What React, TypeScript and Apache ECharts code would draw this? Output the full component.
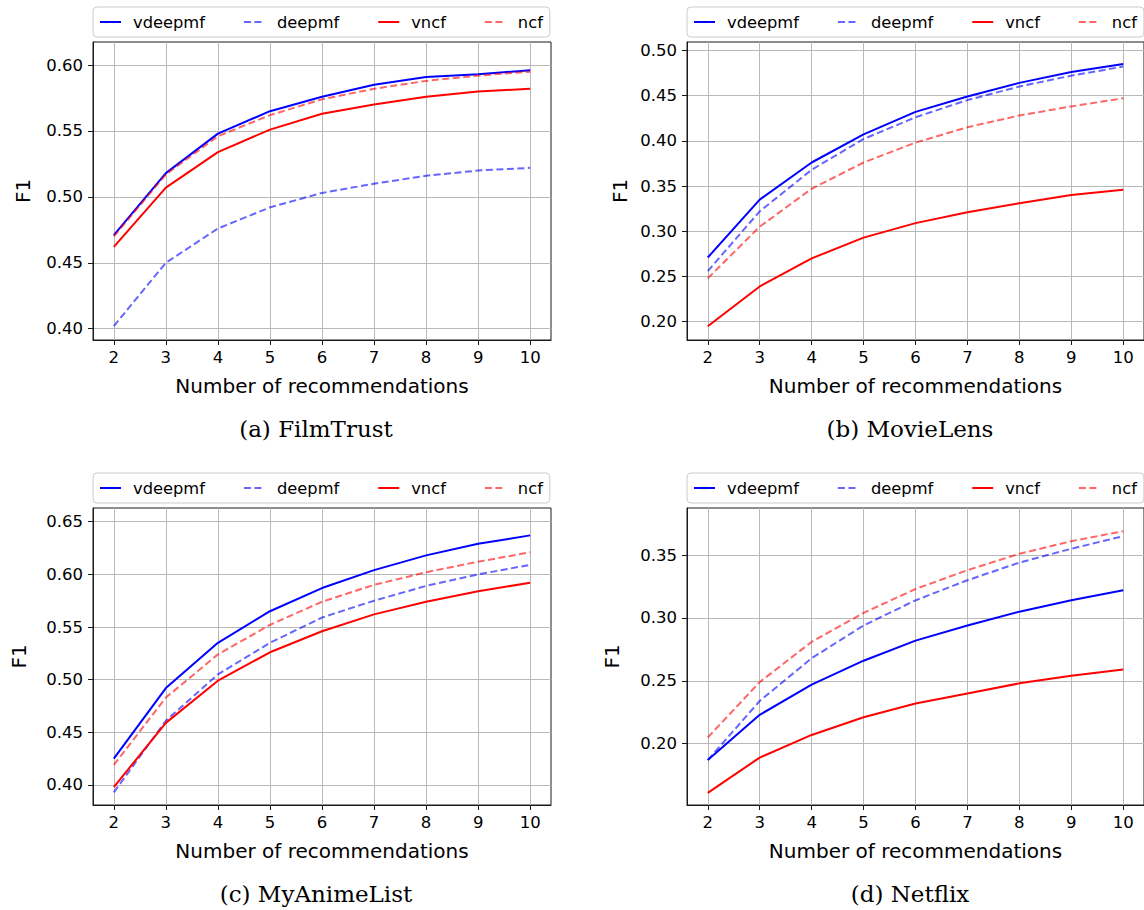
import React, { useEffect, useRef } from "react";
import * as echarts from "echarts";

// Number of recommendations (x values shared by every panel)
const steps = [2, 3, 4, 5, 6, 7, 8, 9, 10];
const methods = ["vdeepmf", "deepmf", "vncf", "ncf"];

// FilmTrust F1
const filmTrustVdeepmf = [0.471, 0.518, 0.548, 0.565, 0.576, 0.585, 0.591, 0.593, 0.596];
const filmTrustDeepmf = [0.402, 0.450, 0.476, 0.492, 0.503, 0.510, 0.516, 0.520, 0.522];
const filmTrustVncf = [0.462, 0.507, 0.534, 0.551, 0.563, 0.570, 0.576, 0.580, 0.582];
const filmTrustNcf = [0.470, 0.517, 0.546, 0.562, 0.574, 0.582, 0.588, 0.592, 0.595];

// MovieLens F1
const movieLensVdeepmf = [0.271, 0.335, 0.376, 0.407, 0.432, 0.449, 0.464, 0.476, 0.485];
const movieLensDeepmf = [0.256, 0.322, 0.368, 0.402, 0.426, 0.445, 0.460, 0.472, 0.482];
const movieLensVncf = [0.195, 0.239, 0.270, 0.293, 0.309, 0.321, 0.331, 0.340, 0.346];
const movieLensNcf = [0.248, 0.305, 0.347, 0.376, 0.398, 0.415, 0.428, 0.438, 0.447];

// MyAnimeList F1
const animeVdeepmf = [0.425, 0.492, 0.535, 0.565, 0.587, 0.604, 0.618, 0.629, 0.637];
const animeDeepmf = [0.393, 0.461, 0.505, 0.535, 0.559, 0.575, 0.589, 0.600, 0.609];
const animeVncf = [0.398, 0.459, 0.499, 0.526, 0.546, 0.562, 0.574, 0.584, 0.592];
const animeNcf = [0.419, 0.483, 0.524, 0.552, 0.574, 0.590, 0.602, 0.612, 0.621];

// Netflix F1
const netflixVdeepmf = [0.187, 0.223, 0.247, 0.266, 0.282, 0.294, 0.305, 0.314, 0.322];
const netflixDeepmf = [0.187, 0.234, 0.268, 0.294, 0.314, 0.330, 0.344, 0.355, 0.365];
const netflixVncf = [0.161, 0.189, 0.207, 0.221, 0.232, 0.240, 0.248, 0.254, 0.259];
const netflixNcf = [0.205, 0.249, 0.281, 0.304, 0.323, 0.338, 0.351, 0.361, 0.369];

// Y tick labels per panel
const filmTrustTicks = [0.4, 0.45, 0.5, 0.55, 0.6];
const movieLensTicks = [0.2, 0.25, 0.3, 0.35, 0.4, 0.45, 0.5];
const animeTicks = [0.4, 0.45, 0.5, 0.55, 0.6, 0.65];
const netflixTicks = [0.2, 0.25, 0.3, 0.35];

const captions = ["(a) FilmTrust", "(b) MovieLens", "(c) MyAnimeList", "(d) Netflix"];

const SANS = '"DejaVu Sans", sans-serif';
const SERIF = '"DejaVu Serif", serif';

const lineStyles = [
  { color: "#0000ff", type: "solid" as any },
  { color: "rgba(0,0,255,0.6)", type: [7, 3.5] as any },
  { color: "#ff0000", type: "solid" as any },
  { color: "rgba(255,0,0,0.6)", type: [7, 3.5] as any },
];

const panels = [
  { series: [filmTrustVdeepmf, filmTrustDeepmf, filmTrustVncf, filmTrustNcf], ticks: filmTrustTicks, min: 0.3914, max: 0.6175, left: 93, top: 42, height: 298, nameGap: 60 },
  { series: [movieLensVdeepmf, movieLensDeepmf, movieLensVncf, movieLensNcf], ticks: movieLensTicks, min: 0.1798, max: 0.5092, left: 687, top: 42, height: 298, nameGap: 57 },
  { series: [animeVdeepmf, animeDeepmf, animeVncf, animeNcf], ticks: animeTicks, min: 0.381, max: 0.663, left: 93, top: 508, height: 297, nameGap: 64 },
  { series: [netflixVdeepmf, netflixDeepmf, netflixVncf, netflixNcf], ticks: netflixTicks, min: 0.1513, max: 0.3874, left: 687, top: 508, height: 297, nameGap: 65 },
];

const GRID_W = 458;

export default function App() {
  const ref = useRef<HTMLDivElement>(null);

  useEffect(() => {
    if (!ref.current) return;
    const chart = echarts.init(ref.current, undefined, { renderer: "svg" });

    const grid = panels.map((p) => ({
      left: p.left,
      top: p.top,
      width: GRID_W,
      height: p.height,
      show: true,
      borderColor: "#1a1a1a",
      borderWidth: 1,
      backgroundColor: "transparent",
      containLabel: false,
    }));

    const xAxis = panels.map((p, i) => ({
      type: "value",
      gridIndex: i,
      min: 1.6,
      max: 10.4,
      splitNumber: 9,
      minInterval: 1,
      maxInterval: 1,
      name: "Number of recommendations",
      nameLocation: "middle",
      nameGap: 36,
      nameTextStyle: { fontFamily: SANS, fontSize: 20, color: "#000" },
      axisLine: { show: true, lineStyle: { color: "#1a1a1a", width: 1 } },
      axisTick: { show: true, length: 5, customValues: steps, lineStyle: { color: "#1a1a1a" } },
      axisLabel: {
        customValues: steps,
        fontFamily: SANS,
        fontSize: 16.5,
        color: "#000",
        margin: 9,
      },
      splitLine: { show: true, lineStyle: { color: "#b8b8b8", width: 1 } },
    }));

    const yAxis = panels.map((p, i) => ({
      type: "value",
      gridIndex: i,
      min: p.min,
      max: p.max,
      splitNumber: 6,
      minInterval: 0.05,
      maxInterval: 0.05,
      name: "F1",
      nameLocation: "middle",
      nameGap: p.nameGap,
      nameTextStyle: { fontFamily: SANS, fontSize: 20, color: "#000" },
      axisLine: { show: true, lineStyle: { color: "#1a1a1a", width: 1 } },
      axisTick: { show: true, length: 5, customValues: p.ticks, lineStyle: { color: "#1a1a1a" } },
      axisLabel: {
        customValues: p.ticks,
        formatter: (v: number) => v.toFixed(2),
        fontFamily: SANS,
        fontSize: 16.5,
        color: "#000",
        margin: 10,
      },
      splitLine: { show: true, lineStyle: { color: "#b8b8b8", width: 1 } },
    }));

    const series: any[] = [];
    panels.forEach((p, i) => {
      p.series.forEach((vals, k) => {
        series.push({
          type: "line",
          name: methods[k],
          xAxisIndex: i,
          yAxisIndex: i,
          data: steps.map((x, j) => [x, vals[j]]),
          symbol: "none",
          showSymbol: false,
          smooth: false,
          lineStyle: { color: lineStyles[k].color, width: 2, type: lineStyles[k].type },
          itemStyle: { color: lineStyles[k].color },
          emphasis: { disabled: true },
        });
      });
    });

    const legend = panels.map((p) => ({
      left: p.left,
      top: p.top - 35,
      width: 480,
      orient: "horizontal",
      selectedMode: false,
      itemWidth: 21,
      itemHeight: 14,
      itemGap: 38,
      padding: [7, 7, 7, 6],
      borderColor: "#cccccc",
      borderWidth: 1,
      borderRadius: 4,
      backgroundColor: "rgba(255,255,255,0.8)",
      itemStyle: { color: "transparent", borderWidth: 0, opacity: 0 },
      textStyle: { fontFamily: SANS, fontSize: 16.3, color: "#000", padding: [0, 0, 0, 7] },
      data: methods,
    }));

    const title = panels.map((p, i) => ({
      text: captions[i],
      left: p.left + GRID_W / 2 - 6,
      top: p.top + p.height + 77,
      textAlign: "center",
      padding: 0,
      textStyle: { fontFamily: SERIF, fontSize: 23, fontWeight: "normal", color: "#000" },
    }));

    chart.setOption({
      animation: false,
      backgroundColor: "#ffffff",
      title,
      legend,
      grid,
      xAxis,
      yAxis,
      series,
    } as any);

    return () => chart.dispose();
  }, []);

  return (
    <div
      ref={ref}
      style={{ position: "absolute", left: 0, top: 0, width: 1144, height: 910 }}
    />
  );
}
